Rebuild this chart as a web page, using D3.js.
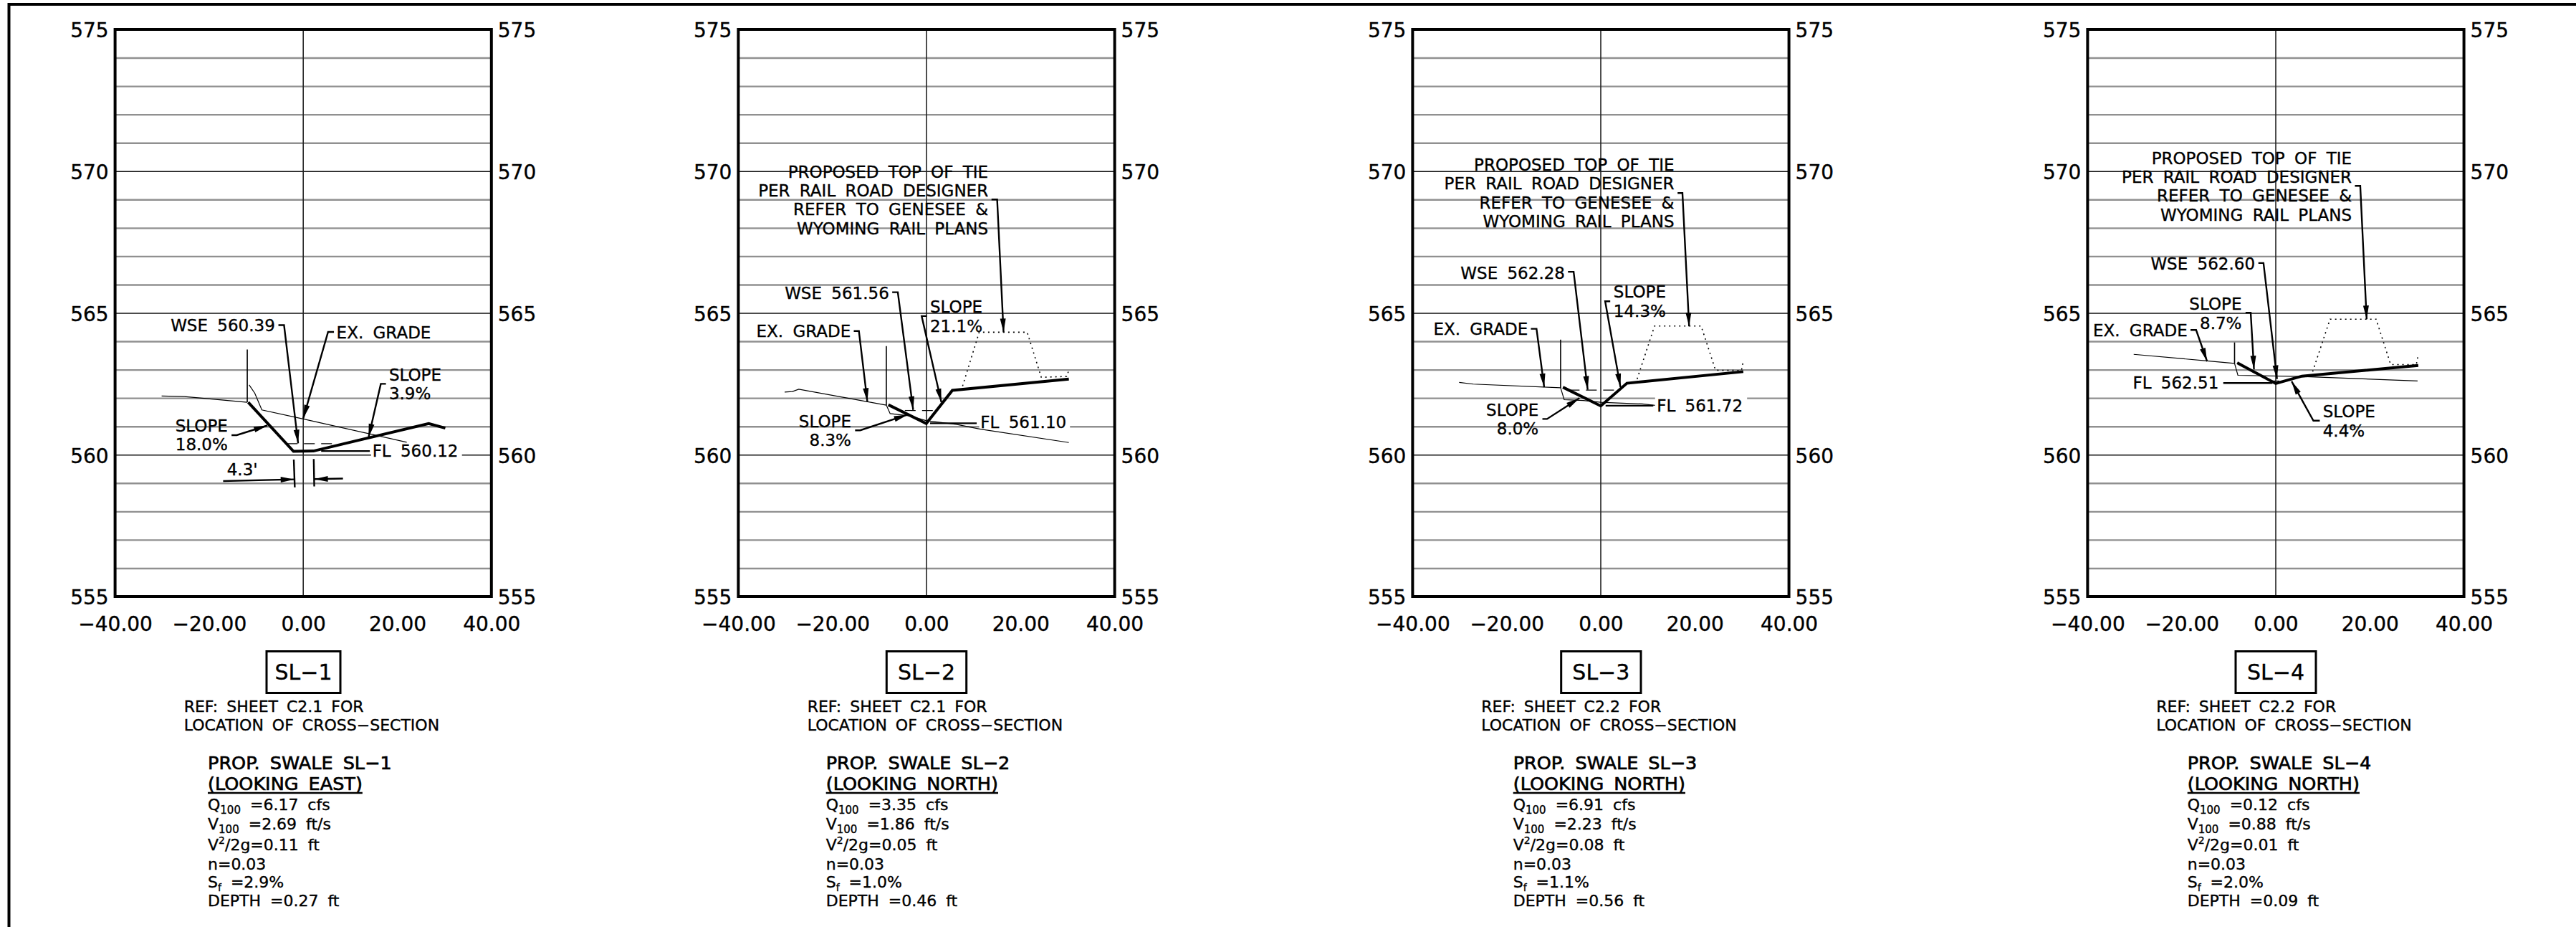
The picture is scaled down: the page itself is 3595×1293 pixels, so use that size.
<!DOCTYPE html>
<html>
<head>
<meta charset="utf-8">
<script src="https://cdn.jsdelivr.net/npm/d3@7"></script>
<style>
  html, body { margin: 0; background: #fff; }
  text { font-family: "DejaVu Sans", sans-serif; fill: #000; white-space: pre; stroke: #000; stroke-width: 0.35px; }
  .note { font-size: 23px; word-spacing: 6px; }
  .param { font-size: 22px; word-spacing: 6px; }
  .ref { font-size: 22px; word-spacing: 5px; }
  .head { font-size: 25.5px; word-spacing: 6px; stroke-width: 0.7px; }
  .axis text { font-size: 28px; }
  .axis path { display: none; }
  .grid path { display: none; }
</style>
</head>
<body>
<script>
// cross-section values: [offset ft, elevation ft]
var xTicks = [-40, -20, 0, 20, 40];
var yTicks = [555, 560, 565, 570, 575];

var swaleNames = ["SL\u22121", "SL\u22122", "SL\u22123", "SL\u22124"];
var lookingDirs = ["(LOOKING EAST)", "(LOOKING NORTH)", "(LOOKING NORTH)", "(LOOKING NORTH)"];
var refSheets = ["C2.1", "C2.1", "C2.2", "C2.2"];
var q100 = ["6.17", "3.35", "6.91", "0.12"];
var v100 = ["2.69", "1.86", "2.23", "0.88"];
var velHead = ["0.11", "0.05", "0.08", "0.01"];
var friction = ["2.9", "1.0", "1.1", "2.0"];
var depth = ["0.27", "0.46", "0.56", "0.09"];

var proposed = [
  [[-11.7, 561.85], [-2.07, 560.12], [2.18, 560.13], [26.67, 561.10], [30.2, 560.94]],
  [[-8.11, 561.76], [-0.05, 561.10], [5.5, 562.27], [30.26, 562.67]],
  [[-8.05, 562.38], [0, 561.72], [5.55, 562.52], [30.3, 562.93]],
  [[-8.2, 563.24], [0, 562.51], [5.55, 562.77], [30.3, 563.15]]
];
var existingLeft = [
  [[-30.1, 562.07], [-25.3, 562.05], [-11.9, 561.85]],
  [[-30.15, 562.21], [-28.5, 562.23], [-27.16, 562.31], [-8.54, 561.75]],
  [[-30.1, 562.55], [-27.1, 562.49], [-8.54, 562.36]],
  [[-30.2, 563.54], [-14.6, 563.31], [-8.76, 563.22]]
];
var existingRight = [
  [[-11.5, 562.46], [-10.3, 562.17], [-8.8, 561.58], [0, 561.26], [22, 560.44]],
  [[-8.54, 561.75], [-7.73, 561.45], [-3.5, 561.37], [0, 561.2], [6.3, 561.07], [11.5, 560.9], [30.26, 560.43]],
  [[-8.54, 562.36], [-7.78, 561.94], [-3.7, 561.91], [0, 561.85], [8.8, 561.79], [11.5, 561.74]],
  [[-8.76, 563.22], [-8.05, 562.8], [5.3, 562.76], [30.15, 562.6]]
];
var limitLines = [
  [[-11.9, 563.71], [-11.9, 561.85]],
  [[-8.54, 563.83], [-8.54, 561.75]],
  [[-8.54, 564.06], [-8.54, 562.36]],
  [[-8.76, 563.96], [-8.76, 563.22]]
];
var waterSurface = [
  [[-3.5, 560.39], [7.3, 560.39]],
  [[-4.6, 561.56], [2.2, 561.56]],
  [[-6.8, 562.28], [4.2, 562.28]],
  [[-1.5, 562.60], [1.5, 562.60]]
];
var railProfile = [
  [],
  [[7.67, 562.42], [11.2, 564.32], [21.4, 564.32], [24.4, 562.73], [29.8, 562.76], [30.26, 562.98]],
  [[7.73, 562.67], [11.43, 564.54], [21.33, 564.54], [24.4, 562.98], [29.9, 562.97], [30.2, 563.22]],
  [[7.84, 562.93], [11.54, 564.78], [21.33, 564.78], [24.43, 563.18], [29.88, 563.18], [30.2, 563.45]]
];

// drawing layout, per panel
var panelLeft = [160.6, 1030.4, 1971.4, 2913.4];
var panelWidth = 525.2;
var boxSides = [[372, 475], [1237.3, 1348.7], [2178.7, 2290], [3120, 3232]];
var refLeft = [256.7, 1126.7, 2067.3, 3009.3];
var propLeft = [290, 1152.7, 2111.7, 3052.7];

var railNote = ["PROPOSED TOP OF TIE", "PER RAIL ROAD DESIGNER", "REFER TO GENESEE &", "WYOMING RAIL PLANS"];

// callouts sit in sheet units so they go through the same scales
var callouts = [
  [
    {lines: ["WSE 560.39"], anchor: "end", x: -6.0, y: [564.35], path: [[-5.28, 564.57], [-4.08, 564.57], [-1.09, 560.40]], arrow: true},
    {lines: ["EX. GRADE"], anchor: "start", x: 7.07, y: [564.10], path: [[6.53, 564.33], [5.28, 564.33], [0, 561.28]], arrow: true},
    {lines: ["SLOPE", "3.9%"], anchor: "start", x: 18.23, y: [562.61, 561.96], path: [[17.58, 562.50], [16.49, 562.50], [13.88, 560.61]], arrow: true},
    {lines: ["SLOPE", "18.0%"], anchor: "end", x: -16.05, y: [560.82, 560.15], path: [[-15.24, 560.69], [-14.15, 560.69], [-7.62, 561.03]], arrow: true},
    {lines: ["FL 560.12"], anchor: "start", x: 14.69, y: [559.94], path: [[14.15, 560.13], [3.81, 560.13]], mask: [14.42, 33.74, 560]},
    {lines: ["4.3'"], anchor: "start", x: -16.22, y: [559.28], path: [[-17.03, 559.07], [-1.9, 559.13]], arrow: true},
    {lines: [], path: [[8.44, 559.16], [2.34, 559.14]], arrow: true},
    {lines: [], path: [[-2.01, 559.83], [-1.80, 558.85]]},
    {lines: [], path: [[2.23, 559.85], [2.34, 558.88]]}
  ],
  [
    {lines: railNote, anchor: "end", x: 13.12, y: [569.77, 569.11, 568.44, 567.77], path: [[13.82, 569.0], [15.02, 569.0], [16.38, 564.32]], arrow: true},
    {lines: ["WSE 561.56"], anchor: "end", x: -7.95, y: [565.50], path: [[-7.29, 565.73], [-6.10, 565.73], [-2.83, 561.58]], arrow: true},
    {lines: ["EX. GRADE"], anchor: "end", x: -16.11, y: [564.15], path: [[-15.46, 564.36], [-14.37, 564.36], [-12.57, 561.87]], arrow: true},
    {lines: ["SLOPE", "21.1%"], anchor: "start", x: 0.76, y: [565.01, 564.33], path: [[0.05, 564.89], [-1.03, 564.89], [3.16, 561.85]], arrow: true},
    {lines: ["SLOPE", "8.3%"], anchor: "end", x: -16.0, y: [560.97, 560.30], path: [[-15.18, 560.86], [-14.1, 560.86], [-4.03, 561.41]], arrow: true},
    {lines: ["FL 561.10"], anchor: "start", x: 11.48, y: [560.93], path: [[10.67, 561.11], [0.76, 561.11]], mask: [11.2, 30.5, 561]}
  ],
  [
    {lines: railNote, anchor: "end", x: 15.62, y: [570.01, 569.35, 568.68, 568.02], path: [[16.33, 569.23], [17.36, 569.23], [18.78, 564.53]], arrow: true},
    {lines: ["WSE 562.28"], anchor: "end", x: -7.62, y: [566.21], path: [[-6.97, 566.45], [-5.77, 566.45], [-2.78, 562.29]], arrow: true},
    {lines: ["SLOPE", "14.3%"], anchor: "start", x: 2.72, y: [565.54, 564.87], path: [[2.01, 565.41], [0.93, 565.41], [4.19, 562.38]], arrow: true},
    {lines: ["EX. GRADE"], anchor: "end", x: -15.51, y: [564.22], path: [[-14.86, 564.44], [-13.66, 564.44], [-12.03, 562.38]], arrow: true},
    {lines: ["SLOPE", "8.0%"], anchor: "end", x: -13.22, y: [561.38, 560.72], path: [[-12.41, 561.26], [-11.43, 561.26], [-4.52, 562.0]], arrow: true},
    {lines: ["FL 561.72"], anchor: "start", x: 11.92, y: [561.53], path: [[11.16, 561.73], [1.03, 561.73]], mask: [11.54, 31.1, 562]}
  ],
  [
    {lines: railNote, anchor: "end", x: 16.16, y: [570.24, 569.59, 568.93, 568.25], path: [[16.82, 569.48], [17.96, 569.48], [19.32, 564.78]], arrow: true},
    {lines: ["WSE 562.60"], anchor: "end", x: -4.41, y: [566.54], path: [[-3.7, 566.76], [-2.61, 566.76], [0.27, 562.67]], arrow: true},
    {lines: ["SLOPE", "8.7%"], anchor: "end", x: -7.24, y: [565.12, 564.44], path: [[-6.42, 565.01], [-5.33, 565.01], [-4.63, 563.01]], arrow: true},
    {lines: ["EX. GRADE"], anchor: "end", x: -18.78, y: [564.19], path: [[-18.12, 564.40], [-16.93, 564.40], [-14.59, 563.29]], arrow: true},
    {lines: ["FL 562.51"], anchor: "end", x: -12.14, y: [562.34], path: [[-11.16, 562.53], [-0.71, 562.53]]},
    {lines: ["SLOPE", "4.4%"], anchor: "start", x: 10.01, y: [561.31, 560.65], path: [[9.36, 561.2], [8.0, 561.2], [3.37, 562.59]], arrow: true}
  ]
];

var svg = d3.select("body").append("svg")
  .attr("width", 3595)
  .attr("height", 1293)
  .style("display", "block");

// sheet border, runs off the right and bottom of the page
svg.append("path")
  .attr("d", "M12.5,1293V6H3595")
  .attr("fill", "none")
  .attr("stroke", "#000")
  .attr("stroke-width", 4);

var yScale = d3.scaleLinear().domain([555, 575]).range([832, 41]);

panelLeft.forEach(function(left, i) {
  var xScale = d3.scaleLinear().domain([-40, 40]).range([left, left + panelWidth]);
  var line = d3.line().x(d => xScale(d[0])).y(d => yScale(d[1]));
  var g = svg.append("g");

  // 1 ft grid
  g.append("g")
    .attr("class", "grid")
    .attr("transform", `translate(${left},0)`)
    .call(d3.axisLeft(yScale).tickValues(d3.range(556, 575).filter(d => d % 5 != 0)).tickSize(-panelWidth).tickFormat(""))
    .selectAll("line").attr("stroke", "#909090").attr("stroke-width", 2.4);

  g.append("g")
    .attr("class", "grid")
    .attr("transform", `translate(${left},0)`)
    .call(d3.axisLeft(yScale).tickValues([560, 565, 570]).tickSize(-panelWidth).tickFormat(""))
    .selectAll("line").attr("stroke", "#111").attr("stroke-width", 1.6);

  // white gap in the grid behind the flow line label
  callouts[i].filter(c => c.mask).forEach(function(c) {
    g.append("rect")
      .attr("x", xScale(c.mask[0]))
      .attr("y", yScale(c.mask[2]) - 3)
      .attr("width", xScale(c.mask[1]) - xScale(c.mask[0]))
      .attr("height", 6)
      .attr("fill", "#fff");
  });

  g.append("line")
    .attr("x1", xScale(0)).attr("x2", xScale(0))
    .attr("y1", yScale(575)).attr("y2", yScale(555))
    .attr("stroke", "#222").attr("stroke-width", 1.6);

  g.append("rect")
    .attr("x", left)
    .attr("y", yScale(575))
    .attr("width", panelWidth)
    .attr("height", yScale(555) - yScale(575))
    .attr("fill", "none")
    .attr("stroke", "#000")
    .attr("stroke-width", 4);

  // axes
  g.append("g")
    .attr("class", "axis")
    .attr("transform", `translate(${left},0)`)
    .call(d3.axisLeft(yScale).tickValues(yTicks).tickSize(0).tickPadding(9).tickFormat(d3.format("d")));
  g.append("g")
    .attr("class", "axis")
    .attr("transform", `translate(${left + panelWidth},0)`)
    .call(d3.axisRight(yScale).tickValues(yTicks).tickSize(0).tickPadding(9).tickFormat(d3.format("d")));
  g.append("g")
    .attr("class", "axis")
    .attr("transform", `translate(0,${yScale(555)})`)
    .call(d3.axisBottom(xScale).tickValues(xTicks).tickSize(0).tickPadding(28).tickFormat(d3.format(".2f")));
  g.selectAll(".axis").attr("font-family", null).attr("font-size", null);
  g.selectAll(".axis text").filter(function() { return this.getAttribute("dy") == "0.32em"; }).attr("dy", "0.39em");

  // profiles
  function draw(points, width, dash) {
    g.append("path")
      .attr("d", line(points))
      .attr("fill", "none")
      .attr("stroke", "#000")
      .attr("stroke-width", width)
      .attr("stroke-dasharray", dash || null);
  }
  draw(existingLeft[i], 1.2);
  draw(existingRight[i], 1.2);
  draw(limitLines[i], 1.6);
  draw(waterSurface[i], 1.2, "15 9");
  if (railProfile[i].length) draw(railProfile[i], 1.6, "2 5");
  draw(proposed[i], 4);

  // callouts with leaders
  callouts[i].forEach(function(c) {
    draw(c.path, 2.4);
    if (c.arrow) {
      var a = c.path[c.path.length - 2], b = c.path[c.path.length - 1];
      var bx = xScale(b[0]), by = yScale(b[1]);
      var ang = Math.atan2(by - yScale(a[1]), bx - xScale(a[0]));
      var len = 19, hw = 4;
      var px = bx - len * Math.cos(ang), py = by - len * Math.sin(ang);
      g.append("polygon")
        .attr("points", [
          [bx, by],
          [px - hw * Math.sin(ang), py + hw * Math.cos(ang)],
          [px + hw * Math.sin(ang), py - hw * Math.cos(ang)]
        ].join(" "));
    }
    c.lines.forEach(function(t, k) {
      g.append("text")
        .attr("class", "note")
        .attr("text-anchor", c.anchor)
        .attr("x", xScale(c.x))
        .attr("y", yScale(c.y[k]))
        .text(t);
    });
  });

  // section tag and notes under the plot
  g.append("rect")
    .attr("x", boxSides[i][0])
    .attr("y", 908.5)
    .attr("width", boxSides[i][1] - boxSides[i][0])
    .attr("height", 58)
    .attr("fill", "none")
    .attr("stroke", "#000")
    .attr("stroke-width", 3);
  g.append("text")
    .attr("x", (boxSides[i][0] + boxSides[i][1]) / 2)
    .attr("y", 948)
    .attr("text-anchor", "middle")
    .style("font-size", "30px")
    .text(swaleNames[i]);

  g.append("text").attr("class", "ref").attr("x", refLeft[i]).attr("y", 993)
    .text("REF: SHEET " + refSheets[i] + " FOR");
  g.append("text").attr("class", "ref").attr("x", refLeft[i]).attr("y", 1019)
    .text("LOCATION OF CROSS\u2212SECTION");

  var px0 = propLeft[i];
  g.append("text").attr("class", "head").attr("x", px0).attr("y", 1072.5)
    .text("PROP. SWALE " + swaleNames[i]);
  var look = g.append("text").attr("class", "head").attr("x", px0).attr("y", 1101.5)
    .text(lookingDirs[i]);
  g.append("line")
    .attr("x1", px0)
    .attr("x2", px0 + look.node().getComputedTextLength())
    .attr("y1", 1106).attr("y2", 1106)
    .attr("stroke", "#000").attr("stroke-width", 2.5);

  function param(y, parts) {
    var t = g.append("text").attr("class", "param").attr("x", px0).attr("y", y);
    parts.forEach(function(p) {
      var s = t.append("tspan").text(p[0]);
      if (p[1]) s.style("font-size", p[1] + "px");
      if (p[2]) s.attr("dy", p[2]);
    });
  }
  param(1130, [["Q"], ["100", 15, 5], [" =" + q100[i] + " cfs", 22, -5]]);
  param(1156.5, [["V"], ["100", 15, 5], [" =" + v100[i] + " ft/s", 22, -5]]);
  param(1186, [["V"], ["2", 14, -9], ["/2g=" + velHead[i] + " ft", 22, 9]]);
  param(1212.5, [["n=0.03"]]);
  param(1238, [["S"], ["f", 14, 5], [" =" + friction[i] + "%", 22, -5]]);
  param(1264, [["DEPTH =" + depth[i] + " ft"]]);
});
</script>
</body>
</html>
